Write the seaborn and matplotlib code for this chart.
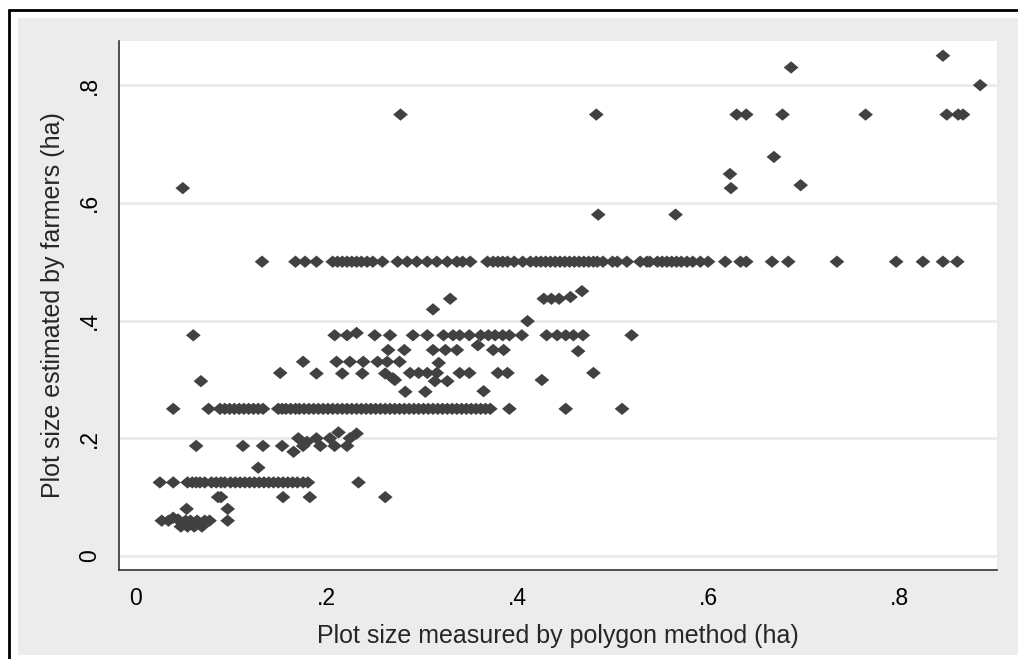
import matplotlib
matplotlib.use("Agg")
import matplotlib.pyplot as plt
from matplotlib.patches import Rectangle
from matplotlib.lines import Line2D
import pandas as pd
import seaborn as sns

sns.set_style('white')
plt.rcParams['font.family'] = ['Liberation Sans', 'DejaVu Sans']

# polygon measurement (x) of plots that farmers put at 0.5 ha
half_ha_x = [0.133, 0.168, 0.178, 0.19, 0.207, 0.212, 0.217, 0.222, 0.227, 0.232, 0.237,
             0.243, 0.249, 0.259, 0.275, 0.285, 0.295, 0.306, 0.316, 0.327, 0.337, 0.343,
             0.351, 0.369, 0.375, 0.38, 0.385, 0.39, 0.397, 0.406, 0.414, 0.42, 0.425,
             0.43, 0.435, 0.44, 0.445, 0.45, 0.455, 0.46, 0.465, 0.47, 0.475, 0.48, 0.484,
             0.49, 0.5, 0.505, 0.515, 0.529, 0.536, 0.539, 0.547, 0.552, 0.557, 0.562,
             0.567, 0.572, 0.578, 0.584, 0.592, 0.6, 0.618, 0.634, 0.64, 0.667, 0.684,
             0.735, 0.797, 0.825, 0.846, 0.861]

# plots put at 0.25 ha
quarter_ha_x = [0.04, 0.077, 0.089, 0.094, 0.099, 0.104, 0.109, 0.114, 0.119, 0.124, 0.129,
                0.134, 0.15, 0.154, 0.158, 0.163, 0.168, 0.172, 0.177, 0.182, 0.187, 0.192,
                0.197, 0.202, 0.207, 0.212, 0.217, 0.222, 0.227, 0.232, 0.237, 0.242, 0.247,
                0.252, 0.257, 0.262, 0.267, 0.272, 0.277, 0.282, 0.287, 0.292, 0.297, 0.302,
                0.307, 0.312, 0.317, 0.322, 0.327, 0.332, 0.337, 0.342, 0.347, 0.352, 0.357,
                0.362, 0.367, 0.372, 0.392, 0.451, 0.51]

# plots put at 0.125 ha
eighth_ha_x = [0.026, 0.04, 0.055, 0.06, 0.064, 0.068, 0.073, 0.08, 0.085, 0.09, 0.094,
               0.1, 0.105, 0.11, 0.115, 0.12, 0.125, 0.13, 0.135, 0.14, 0.145, 0.15,
               0.155, 0.16, 0.165, 0.17, 0.176, 0.181, 0.234]

# plots put at 0.375 ha
three_eighth_x = [0.061, 0.209, 0.222, 0.251, 0.267, 0.291, 0.306, 0.323, 0.333, 0.34,
                  0.35, 0.362, 0.37, 0.377, 0.385, 0.392, 0.405, 0.431, 0.442, 0.451,
                  0.459, 0.469, 0.52]

# plots put at 0.75 ha
three_quarter_x = [0.278, 0.483, 0.63, 0.64, 0.678, 0.765, 0.85, 0.862, 0.867]

# remaining scattered plots
other_x = [0.232, 0.265, 0.282, 0.312, 0.325, 0.337, 0.359, 0.375, 0.386, 0.464,
           0.176, 0.211, 0.225, 0.239, 0.254, 0.264, 0.277, 0.318,
           0.152, 0.19, 0.217, 0.238, 0.262, 0.288, 0.297, 0.306, 0.316, 0.34, 0.35,
           0.38, 0.39, 0.48, 0.27, 0.272,
           0.069, 0.314, 0.327, 0.426, 0.283, 0.304, 0.365,
           0.312, 0.33, 0.411, 0.428, 0.436, 0.444, 0.456, 0.468,
           0.064, 0.113, 0.134, 0.154, 0.166, 0.171, 0.176, 0.18, 0.19, 0.194, 0.204,
           0.209, 0.213, 0.222, 0.225, 0.232,
           0.129, 0.087, 0.09, 0.155, 0.183, 0.262, 0.097, 0.097, 0.054,
           0.028, 0.035, 0.04, 0.045, 0.048, 0.05, 0.053, 0.055, 0.058, 0.06, 0.062,
           0.065, 0.067, 0.07, 0.073, 0.078,
           0.05, 0.485, 0.566, 0.623, 0.624, 0.669, 0.697, 0.687, 0.846, 0.885]
other_y = [0.379, 0.35, 0.35, 0.35, 0.35, 0.35, 0.358, 0.35, 0.35, 0.348,
           0.33, 0.33, 0.33, 0.33, 0.33, 0.33, 0.33, 0.328,
           0.311, 0.31, 0.31, 0.31, 0.31, 0.311, 0.311, 0.311, 0.311, 0.311, 0.311,
           0.311, 0.311, 0.311, 0.302, 0.299,
           0.297, 0.297, 0.297, 0.299, 0.279, 0.279, 0.28,
           0.419, 0.437, 0.399, 0.437, 0.437, 0.437, 0.44, 0.45,
           0.187, 0.187, 0.187, 0.187, 0.177, 0.2, 0.187, 0.194, 0.2, 0.187, 0.2,
           0.187, 0.21, 0.187, 0.2, 0.208,
           0.15, 0.1, 0.1, 0.1, 0.1, 0.1, 0.08, 0.06, 0.08,
           0.06, 0.06, 0.065, 0.062, 0.05, 0.055, 0.06, 0.05, 0.06, 0.055, 0.05,
           0.06, 0.055, 0.05, 0.06, 0.06,
           0.625, 0.58, 0.58, 0.649, 0.625, 0.678, 0.63, 0.83, 0.85, 0.8]

yticks = [0, 0.2, 0.4, 0.6, 0.8]
xticks = [0, 0.2, 0.4, 0.6, 0.8]
tick_labels = ['0', '.2', '.4', '.6', '.8']

polygon = (half_ha_x + quarter_ha_x + eighth_ha_x + three_eighth_x + three_quarter_x + other_x)
farmer = ([0.5] * len(half_ha_x) + [0.25] * len(quarter_ha_x) + [0.125] * len(eighth_ha_x)
          + [0.375] * len(three_eighth_x) + [0.75] * len(three_quarter_x) + other_y)
df = pd.DataFrame({'polygon': polygon, 'farmer': farmer})

fig = plt.figure(figsize=(10.18, 6.59), dpi=100)
fig.patch.set_facecolor('white')
W, H = 1018, 659
# gray graph region and black outer frame (Stata-like)
fig.patches.append(Rectangle((18 / W, 1 - 655 / H), 1, (655 - 18) / H,
                             transform=fig.transFigure, facecolor='#ececec', edgecolor='none', zorder=-5))
fig.lines.append(Line2D([9 / W, 9 / W], [0, 1 - 10 / H], transform=fig.transFigure,
                        color='black', lw=2, zorder=-4))
fig.lines.append(Line2D([9 / W, 1], [1 - 10 / H, 1 - 10 / H], transform=fig.transFigure,
                        color='black', lw=2, zorder=-4))

ax = fig.add_axes([119 / W, 1 - 570 / H, (997 - 119) / W, (570 - 41) / H])
ax.set_facecolor('white')

diamond = [(-1, 0), (0, 0.84), (1, 0), (0, -0.84)]
sns.scatterplot(data=df, x='polygon', y='farmer', marker=diamond, s=112, color='#414141',
                edgecolor='none', linewidth=0, ax=ax, zorder=3)

ax.set_xlim(-0.0168, 0.9026)
ax.set_ylim(-0.0238, 0.875)
ax.set_xticks(xticks)
ax.set_xticklabels(tick_labels)
ax.set_yticks(yticks)
ax.set_yticklabels(tick_labels, rotation=90, va='center')
ax.yaxis.grid(True, color='#e8e8e8', lw=1.8)
ax.xaxis.grid(False)
ax.set_axisbelow(True)
for side in ['top', 'right']:
    ax.spines[side].set_visible(False)
for side in ['left', 'bottom']:
    ax.spines[side].set_color('#333333')
    ax.spines[side].set_linewidth(1.2)
ax.tick_params(axis='both', direction='out', length=6, width=1, color='#333333',
               labelsize=16.5, labelcolor='black')
ax.tick_params(axis='x', pad=6)
ax.tick_params(axis='y', pad=7)

ax.set_xlabel('Plot size measured by polygon method (ha)', fontsize=18, labelpad=10)
ax.set_ylabel('Plot size estimated by farmers (ha)', fontsize=18, labelpad=9)

fig.savefig('out.png', dpi=100)
